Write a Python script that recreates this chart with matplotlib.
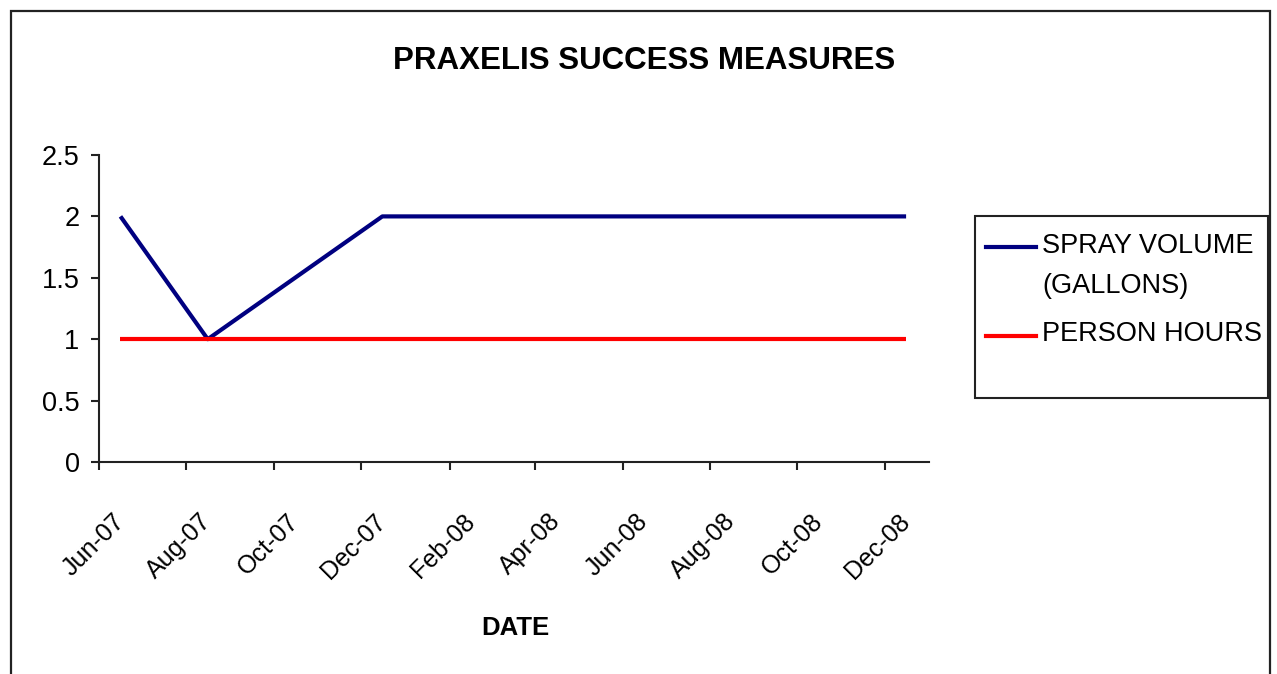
#!/usr/bin/env python3

from datetime import datetime
import matplotlib as mpl
mpl.use("Agg")
import matplotlib.pyplot as plt
import matplotlib.dates as mdates
import matplotlib.transforms as mtransforms
from matplotlib.lines import Line2D
from matplotlib.patches import Rectangle

# monthly readings (plotted at mid-month)
dates = ["2007-06-16", "2007-08-16", "2007-12-16", "2008-12-16"]
spray_volume = [2, 1, 2, 2]
person_hours = [1, 1, 1, 1]
series_names = ["SPRAY VOLUME\n(GALLONS)", "PERSON HOURS"]
series_colors = ["#000080", "#ff0000"]
y_ticks = [0, 0.5, 1, 1.5, 2, 2.5]
y_tick_labels = ["0", "0.5", "1", "1.5", "2", "2.5"]


def main():
    plt.rcParams['font.family'] = ['Liberation Sans', 'DejaVu Sans']
    x = [datetime.strptime(d, "%Y-%m-%d") for d in dates]

    fig = plt.figure(figsize=(12.77, 6.74), dpi=100)
    W, H = 1277, 674

    # outer chart border
    fig.add_artist(Rectangle((11 / W, -0.05), 1259 / W, 1.05 - 11 / H,
                             transform=fig.transFigure, fill=False,
                             edgecolor="#222222", linewidth=1.6))

    ax = fig.add_axes([99 / W, 1 - 462 / H, 830 / W, 307 / H])
    ax.plot(x, spray_volume, color=series_colors[0], linewidth=3, solid_capstyle="butt")
    ax.plot(x, person_hours, color=series_colors[1], linewidth=3, solid_capstyle="butt")

    ax.set_xlim(datetime(2007, 6, 1), datetime(2009, 1, 1))
    ax.set_ylim(0, 2.5)
    ax.xaxis.set_major_locator(mdates.MonthLocator(bymonth=[2, 4, 6, 8, 10, 12]))
    ax.xaxis.set_major_formatter(mdates.DateFormatter("%b-%y"))
    ax.set_yticks(y_ticks)
    ax.set_yticklabels(y_tick_labels)

    for side in ["top", "right"]:
        ax.spines[side].set_visible(False)
    for side in ["left", "bottom"]:
        ax.spines[side].set_linewidth(1.5)
        ax.spines[side].set_color("#222222")
    ax.tick_params(axis="both", direction="out", length=6, width=1.5, color="#222222")
    ax.tick_params(axis="y", pad=8, labelsize=19.5)
    ax.tick_params(axis="x", pad=28, labelsize=18)
    shift = mtransforms.ScaledTranslation(9.5 / 72, 0, fig.dpi_scale_trans)
    for lbl in ax.get_xticklabels():
        lbl.set_rotation(45)
        lbl.set_ha("right")
        lbl.set_va("top")
        lbl.set_rotation_mode("anchor")
        lbl.set_transform(lbl.get_transform() + shift)

    fig.text(644.5 / W, 1 - 69 / H, "PRAXELIS SUCCESS MEASURES", ha="center", va="baseline",
             fontsize=22.5, fontweight="bold")
    fig.text(515 / W, 1 - 635 / H, "DATE", ha="center", va="baseline",
             fontsize=18.5, fontweight="bold")

    # legend box
    fig.add_artist(Rectangle((975 / W, 1 - 398 / H), 293 / W, 182 / H,
                             transform=fig.transFigure, fill=False,
                             edgecolor="#222222", linewidth=1.5))
    for name, color, yline, ybase in zip(series_names, series_colors, [247, 336], [253, 341]):
        fig.add_artist(Line2D([986 / W, 1036 / W], [1 - yline / H, 1 - yline / H],
                              transform=fig.transFigure, color=color, linewidth=3))
        for i, part in enumerate(name.split("\n")):
            fig.text(1042 / W, 1 - (ybase + 40 * i) / H, part, ha="left", va="baseline",
                     fontsize=19.5)

    plt.savefig("out.png", dpi=100)


if __name__ == "__main__":
    main()
